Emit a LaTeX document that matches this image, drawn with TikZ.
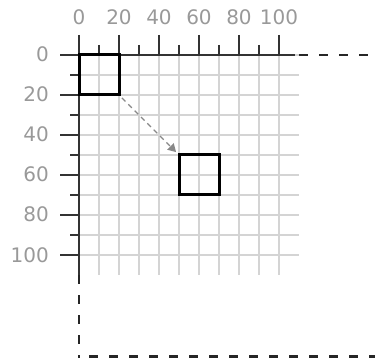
\documentclass[tikz,border=0pt]{standalone}
\usepackage{fontspec}
\setmainfont{DejaVu Sans}
\usetikzlibrary{arrows.meta}
\definecolor{gridc}{HTML}{D4D4D4}
\definecolor{labc}{HTML}{999999}
\definecolor{axc}{HTML}{333333}
\definecolor{arrc}{HTML}{888888}
\begin{document}
\begin{tikzpicture}[x=1pt,y=-1pt,
  gridline/.style={gridc,line width=1.5pt},
  axisline/.style={axc,line width=1.3pt},
  tickline/.style={axc,line width=1.3pt},
  lab/.style={labc,font=\fontsize{20}{24}\selectfont,inner sep=0pt},
  boundline/.style={black!85,line width=2pt,dash pattern=on 9pt off 11pt},
  rectbox/.style={draw=black,line width=3pt,minimum size=40pt,inner sep=0pt},
  movearrow/.style={arrc,line width=1.3pt,dash pattern=on 5pt off 4pt,-{Triangle[length=8pt,width=9pt]}}]
\useasboundingbox (0,0) rectangle (375,358);
% grid
\foreach \i in {0,...,10}{
  \draw[gridline] (79+20*\i,55) -- (79+20*\i,275);
  \draw[gridline] (79,55+20*\i) -- (299,55+20*\i);
}
% boundary (dashed)
\coordinate (o) at (79,55);
\coordinate (tr) at (375,55);
\coordinate (bl) at (79,358);
\coordinate (bs) at (89,356.5);
\coordinate (be) at (375,356.5);
\draw[boundline] (o) -- (tr);
\draw[boundline] (o) -- (bl);
\draw[boundline,line width=3pt,dash pattern=on 9pt off 11pt] (bs) -- (be);
% axes
\draw[axisline] (79,55) -- (295,55);
\draw[axisline] (79,55) -- (79,275);
\foreach \i in {0,...,5}{
  \draw[tickline] (79+40*\i,35) -- (79+40*\i,55);
  \draw[tickline] (60,55+40*\i) -- (79,55+40*\i);
  \pgfmathtruncatemacro{\v}{20*\i}
  \node[lab,anchor=base] (tx\i) at (79+40*\i,25) {\v};
  \node[lab,anchor=base east] (ty\i) at (49,62+40*\i) {\v};
}
\foreach \i in {0,...,4}{
  \draw[tickline] (99+40*\i,45) -- (99+40*\i,55);
  \draw[tickline] (70,75+40*\i) -- (79,75+40*\i);
}
% rectangles
\node[rectbox] (r1) at (99,75) {};
\node[rectbox] (r2) at (199,175) {};
\draw[movearrow,shorten <=2pt,shorten >=2pt] (r1.south east) -- (r2.north west);
\end{tikzpicture}
\end{document}
